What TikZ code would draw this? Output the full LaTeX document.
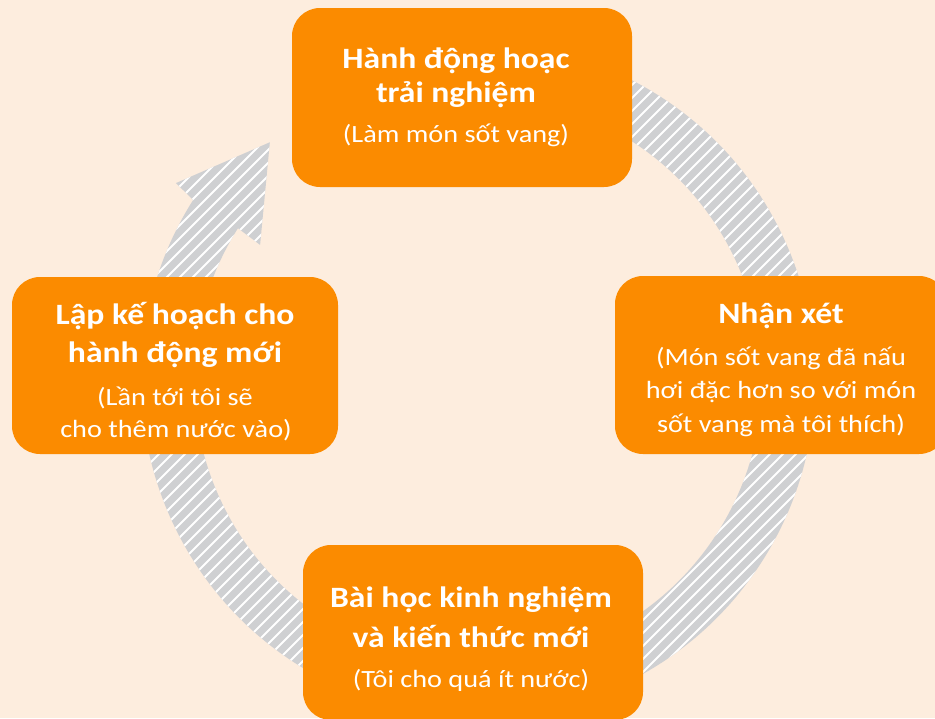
\documentclass[tikz,border=0pt]{standalone}
\usepackage{fontspec}
\setmainfont{Carlito}[FakeStretch=1.14]
\usetikzlibrary{calc}
\definecolor{bgc}{RGB}{253,237,222}
\definecolor{boxor}{RGB}{251,139,0}
\definecolor{ringgray}{RGB}{207,208,210}
\tikzset{
  box/.style={fill=boxor, rounded corners=28pt, inner sep=0pt},
  ttl/.style={text=white, font=\fontsize{29.5}{34}\selectfont\bfseries, anchor=base, inner sep=0pt},
  sub/.style={text=white, font=\fontsize{24.8}{29}\selectfont, anchor=base, inner sep=0pt},
  stripe/.style={white, line width=2pt}
}
\begin{document}
\begin{tikzpicture}[x=1pt,y=1pt]
\useasboundingbox (0,0) rectangle (935,-718);
\fill[bgc] (0,0) rectangle (935,-718);
\coordinate (C) at (478,-380);
% ring arrow
\fill[ringgray]
  ($(C)+(110:337pt)$) arc[start angle=110, end angle=-212.3, radius=337pt]
  -- ($(C)+(146.9:360.6pt)$) -- ($(C)+(131.2:316pt)$) -- ($(C)+(148.2:256.4pt)$)
  -- ($(C)+(-212.3:284pt)$) arc[start angle=-212.3, end angle=110, radius=284pt] -- cycle;
\begin{scope}
\clip
  ($(C)+(110:337pt)$) arc[start angle=110, end angle=-212.3, radius=337pt]
  -- ($(C)+(146.9:360.6pt)$) -- ($(C)+(131.2:316pt)$) -- ($(C)+(148.2:256.4pt)$)
  -- ($(C)+(-212.3:284pt)$) arc[start angle=-212.3, end angle=110, radius=284pt] -- cycle;
\foreach \k in {-58,...,74}{
  \draw[stripe] (\k*13,-730) -- ++(760,760);
}
\end{scope}
% boxes
\node[box, minimum width=340pt, minimum height=179pt] (top) at (462,-97.5) {};
\node[box, minimum width=326pt, minimum height=177pt] (left) at (175,-365.5) {};
\node[box, minimum width=332pt, minimum height=178pt] (right) at (781,-365) {};
\node[box, minimum width=340pt, minimum height=175pt] (bottom) at (473,-632.5) {};
% texts
\node[ttl] (t1a) at (456,-68) {Hành động hoạc};
\node[ttl] (t1b) at (456,-102) {trải nghiệm};
\node[sub] (t1c) at (456,-142) {(Làm món sốt vang)};
\node[ttl] (t2a) at (781,-323) {Nhận xét};
\node[sub] (t2b) at (781,-365) {(Món sốt vang đã nấu};
\node[sub] (t2c) at (781,-398) {hơi đặc hơn so với món};
\node[sub] (t2d) at (781,-432) {sốt vang mà tôi thích)};
\node[ttl] (t3a) at (471,-607) {Bài học kinh nghiệm};
\node[ttl] (t3b) at (471,-647) {và kiến thức mới};
\node[sub] (t3c) at (471,-687) {(Tôi cho quá ít nước)};
\node[ttl] (t4a) at (175,-324) {Lập kế hoạch cho};
\node[ttl] (t4b) at (175,-362) {hành động mới};
\node[sub] (t4c) at (175,-405) {(Lần tới tôi sẽ};
\node[sub] (t4d) at (176,-437) {cho thêm nước vào)};
\end{tikzpicture}
\end{document}
